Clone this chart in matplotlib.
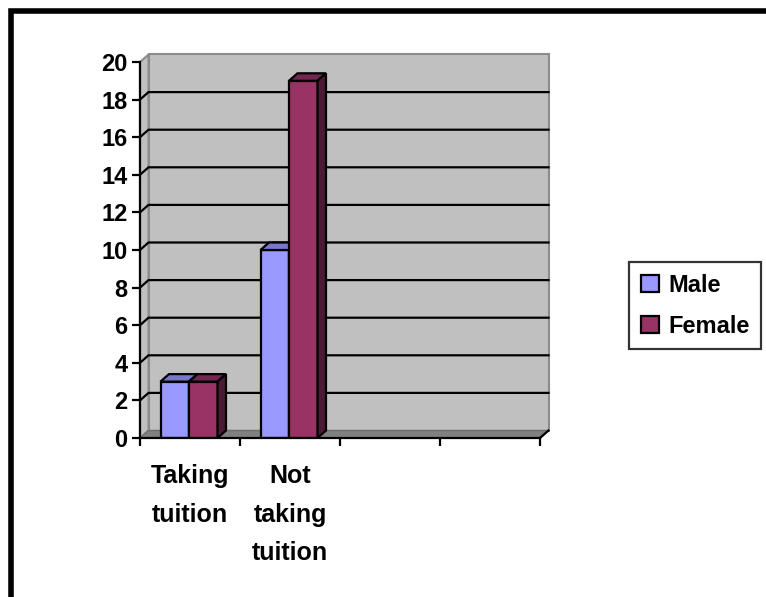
import matplotlib
matplotlib.use('Agg')
import matplotlib.pyplot as plt
from matplotlib.patches import Polygon, Rectangle

plt.rcParams['font.family'] = ['Liberation Sans', 'DejaVu Sans']
plt.rcParams['font.weight'] = 'bold'
plt.rcParams['font.size'] = 17

categories = ['Taking\ntuition', 'Not\ntaking\ntuition', '', '']
male = [3, 10]
female = [3, 19]
series_names = ['Male', 'Female']

male_color = '#9999FF'
male_top = '#7777CC'
male_side = '#4D4D80'
female_color = '#993366'
female_top = '#732650'
female_side = '#4D1A33'
wall_color = '#C0C0C0'
floor_color = '#808080'

W, H = 766, 597
fig = plt.figure(figsize=(W / 100, H / 100), dpi=100)

# front plane of the plot: x 140..540 px, y 438..62 px
ax = fig.add_axes([140 / W, (H - 438) / H, 400 / W, 376 / H])
ax.set_xlim(0, 4)
ax.set_ylim(0, 20)

# depth offset of the 3d look, in data units
dx = 8.5 / 100
dy = 7.5 / 18.8

# walls and floor
back = Polygon([(dx, dy), (4 + dx, dy), (4 + dx, 20 + dy), (dx, 20 + dy)],
               closed=True, facecolor=wall_color, edgecolor='#8c8c8c',
               lw=1.5, clip_on=False, zorder=0)
side = Polygon([(0, 0), (dx, dy), (dx, 20 + dy), (0, 20)], closed=True,
               facecolor=wall_color, edgecolor='#8c8c8c', lw=1.5,
               clip_on=False, zorder=0)
floor = Polygon([(0, 0), (4, 0), (4 + dx, dy), (dx, dy)], closed=True,
                facecolor=floor_color, edgecolor='#6e6e6e', lw=1.0,
                clip_on=False, zorder=0.5)
for p in (back, side, floor):
    ax.add_patch(p)
ax.plot([4, 4 + dx], [0, dy], color='black', lw=1.6, clip_on=False, zorder=1)

# gridlines run across the side wall and the back wall
for v in range(2, 20, 2):
    ax.plot([0, dx, 4 + dx], [v, v + dy, v + dy], color='black', lw=1.6,
            clip_on=False, zorder=1)


def bar3d(x0, w, h, front, top, right):
    b = ax.bar(x0, h, w, align='edge', color=front, edgecolor='black',
               lw=1.6, zorder=3)
    ax.add_patch(Polygon([(x0, h), (x0 + w, h), (x0 + w + dx, h + dy),
                          (x0 + dx, h + dy)], closed=True, facecolor=top,
                         edgecolor='black', lw=1.6, clip_on=False, zorder=3))
    ax.add_patch(Polygon([(x0 + w, 0), (x0 + w + dx, dy),
                          (x0 + w + dx, h + dy), (x0 + w, h)], closed=True,
                         facecolor=right, edgecolor='black', lw=1.6,
                         clip_on=False, zorder=3))
    return b


bw = 0.285
handles = []
for i in range(len(male)):
    c = i + 0.49
    hm = bar3d(c - bw, bw, male[i], male_color, male_top, male_side)
    hf = bar3d(c, bw, female[i], female_color, female_top, female_side)
    if i == 0:
        handles = [hm, hf]

# axes
for s in ('top', 'right'):
    ax.spines[s].set_visible(False)
for s in ('left', 'bottom'):
    ax.spines[s].set_linewidth(1.6)
    ax.spines[s].set_zorder(4)

ax.set_yticks(range(0, 21, 2))
ax.tick_params(axis='y', length=6, width=1.6, pad=3)
for t in ax.get_yticklabels():
    t.set_fontweight('bold')
ax.set_xticks(range(0, 5))
ax.set_xticklabels([])
ax.tick_params(axis='x', which='major', length=6, width=1.6)
ax.set_xticks([i + 0.5 for i in range(4)], minor=True)
ax.set_xticklabels(categories, minor=True, linespacing=1.75, va='top',
                   fontweight='bold', fontsize=18)
ax.tick_params(axis='x', which='minor', length=0, pad=19)

leg = fig.legend(handles, series_names, loc='upper left',
                 bbox_to_anchor=(629 / W, 1 - 262 / H),
                 frameon=True, fancybox=False, edgecolor='black',
                 handlelength=0.75, handleheight=0.75, handletextpad=0.4,
                 labelspacing=0.75, borderpad=0.5, borderaxespad=0,
                 prop={'weight': 'bold', 'size': 17})
leg.get_frame().set_linewidth(1.6)

# outer chart frame, right and bottom edges fall off the canvas
fig.patches.append(Rectangle((10.5 / W, -0.1), 1.2, 1 - 10.5 / H + 0.1,
                             transform=fig.transFigure, fill=False,
                             edgecolor='black', lw=4, zorder=10))

fig.savefig('out.png', dpi=100)
